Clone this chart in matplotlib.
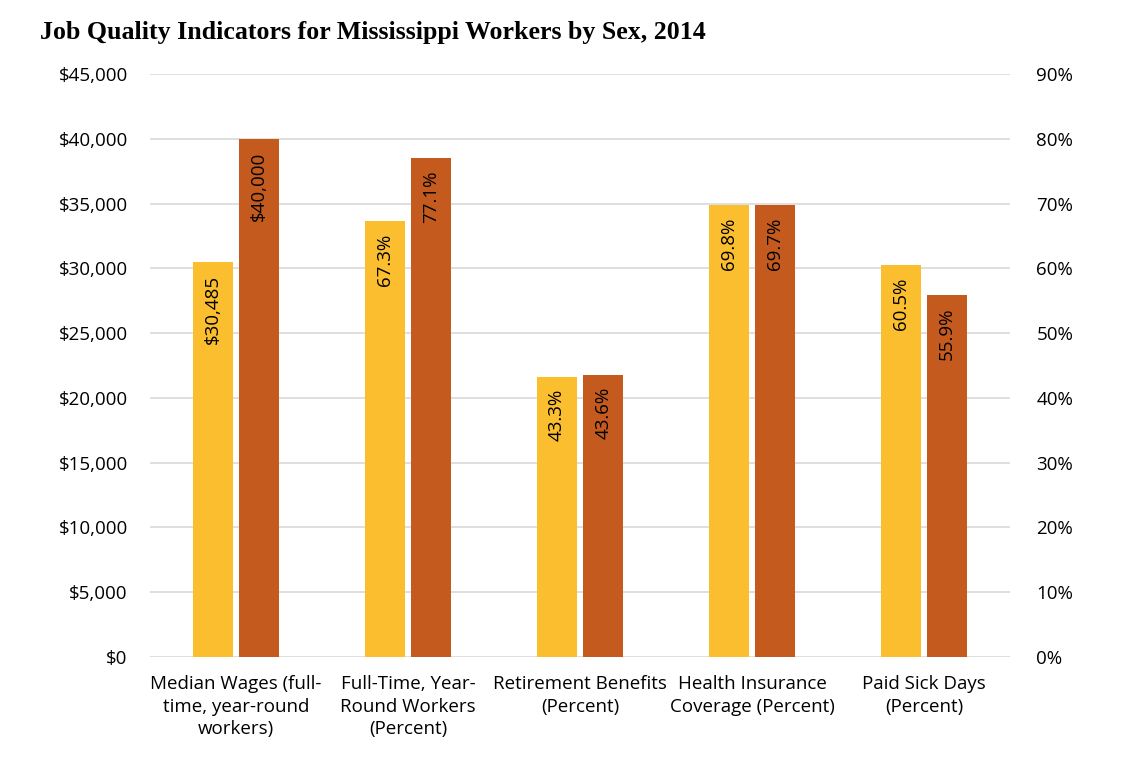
import matplotlib.pyplot as plt
import numpy as np

categories = ["Median Wages (full-\ntime, year-round\nworkers)",
              "Full-Time, Year-\nRound Workers\n(Percent)",
              "Retirement Benefits\n(Percent)",
              "Health Insurance\nCoverage (Percent)",
              "Paid Sick Days\n(Percent)"]
wage_women = 30485
wage_men = 40000
pct_women = [67.3, 43.3, 69.8, 60.5]
pct_men = [77.1, 43.6, 69.7, 55.9]

yellow = '#FBBE2E'
orange = '#C55A1F'

plt.rcParams['font.family'] = ['Open Sans', 'DejaVu Sans']

fig = plt.figure(figsize=(11.42, 7.62), dpi=100)
ax = fig.add_axes([0.1313, 0.1378, 0.7531, 0.7651])
ax2 = ax.twinx()

x = np.arange(len(categories))
w = 0.23
off = 0.135

ax.set_ylim(0, 45000)
ax2.set_ylim(0, 90)
ax.set_xlim(-0.5, len(categories) - 0.5)

def lab(axis, xpos, h, txt):
    axis.annotate(txt, (xpos, h), xytext=(0, -9), textcoords='offset points',
                  rotation=90, ha='center', va='top', fontsize=13.5, color='black')

ax.bar(x[0] - off, wage_women, w, color=yellow, zorder=3)
ax.bar(x[0] + off, wage_men, w, color=orange, zorder=3)
lab(ax, x[0] - off, wage_women, f"${wage_women:,}")
lab(ax, x[0] + off, wage_men, f"${wage_men:,}")

ax2.bar(x[1:] - off, pct_women, w, color=yellow, zorder=3)
ax2.bar(x[1:] + off, pct_men, w, color=orange, zorder=3)
for xi, a, b in zip(x[1:], pct_women, pct_men):
    lab(ax2, xi - off, a, f"{a}%")
    lab(ax2, xi + off, b, f"{b}%")

ax.set_yticks(np.arange(0, 45001, 5000))
ax.set_yticklabels([f"${v:,}" for v in range(0, 45001, 5000)])
ax2.set_yticks(np.arange(0, 91, 10))
ax2.set_yticklabels([f"{v}%" for v in range(0, 91, 10)])
ax.set_xticks(x)
ax.set_xticklabels(categories, fontsize=13.5, linespacing=1.33)

ax.grid(axis='y', color='#D9D9D9', linewidth=1.2, zorder=0)
ax.set_axisbelow(True)
for a in (ax, ax2):
    for s in a.spines.values():
        s.set_visible(False)
ax.tick_params(axis='y', length=0, pad=16, labelsize=13.5)
ax.tick_params(axis='x', length=0, pad=13)
ax2.tick_params(axis='y', length=0, pad=19, labelsize=13.5)

fig.text(0.035, 1 - 33 / 762, "Job Quality Indicators for Mississippi Workers by Sex, 2014",
         family='Liberation Serif', fontweight='bold', fontsize=18.6, va='center', ha='left')

fig.savefig("out.png", dpi=100)
